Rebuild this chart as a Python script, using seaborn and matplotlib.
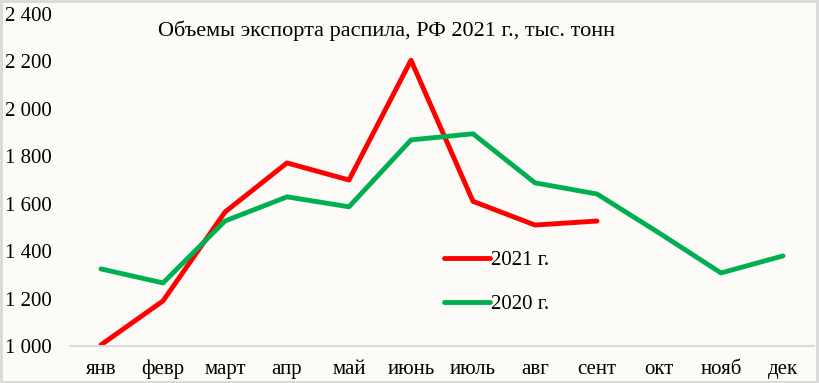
import numpy as np
import matplotlib
matplotlib.use('Agg')
import matplotlib.pyplot as plt
import seaborn as sns
import pandas as pd
from matplotlib.ticker import FuncFormatter
from matplotlib.patches import Rectangle

# data
months = ['янв', 'февр', 'март', 'апр', 'май', 'июнь', 'июль', 'авг', 'сент', 'окт', 'нояб', 'дек']
values_2021 = [1005, 1190, 1565, 1772, 1700, 2205, 1610, 1510, 1527, np.nan, np.nan, np.nan]
values_2020 = [1325, 1266, 1527, 1629, 1587, 1869, 1895, 1688, 1641, 1477, 1308, 1380]
series_names = ['2021 г.', '2020 г.']

df = pd.DataFrame({
    'month': months * 2,
    'pos': list(range(12)) * 2,
    'value': values_2021 + values_2020,
    'series': [series_names[0]] * 12 + [series_names[1]] * 12,
})

sns.set_style('white')
plt.rcParams['font.family'] = ['Liberation Serif', 'DejaVu Serif']
plt.rcParams['text.color'] = 'black'

bg = '#FCFBF7'
fig = plt.figure(figsize=(8.19, 3.83), dpi=100, facecolor=bg)
ax = fig.add_axes([70 / 819, 37 / 383, 744 / 819, 332 / 383])
ax.set_facecolor(bg)

sns.lineplot(data=df, x='pos', y='value', hue='series', hue_order=series_names,
             palette=['#FF0000', '#00B050'], linewidth=3.5, ax=ax, sort=False)

ax.set_xlim(-0.5, 11.5)
ax.set_ylim(1000, 2400)
ax.set_xticks(range(12))
ax.set_xticklabels(months)
ax.set_yticks(range(1000, 2401, 200))
ax.yaxis.set_major_formatter(FuncFormatter(lambda v, p: f'{int(v):,}'.replace(',', ' ')))
ax.tick_params(axis='both', length=0, labelsize=15, colors='black')
ax.tick_params(axis='x', pad=10)
for lab in ax.get_yticklabels():
    lab.set_horizontalalignment('left')
ax.tick_params(axis='y', pad=47)
ax.set_xlabel('')
ax.set_ylabel('')
for s in ['top', 'right', 'left']:
    ax.spines[s].set_visible(False)
ax.spines['bottom'].set_color('#D9D9D9')
ax.spines['bottom'].set_linewidth(1.5)

ax.legend(loc='upper left', bbox_to_anchor=(0.503, 0.287), frameon=False, fontsize=15,
          handlelength=2.2, handletextpad=0.05, labelspacing=1.15, borderaxespad=0,
          borderpad=0)

fig.text(387 / 819, 1 - 31 / 383, 'Объемы экспорта распила, РФ 2021 г., тыс. тонн',
         ha='center', va='center', fontsize=16, color='black')

fig.patches.append(Rectangle((0.001, 0.002), 0.997, 0.995, transform=fig.transFigure,
                             fill=False, edgecolor='#D9D9D9', linewidth=2))

fig.savefig('out.png', dpi=100, facecolor=bg)
